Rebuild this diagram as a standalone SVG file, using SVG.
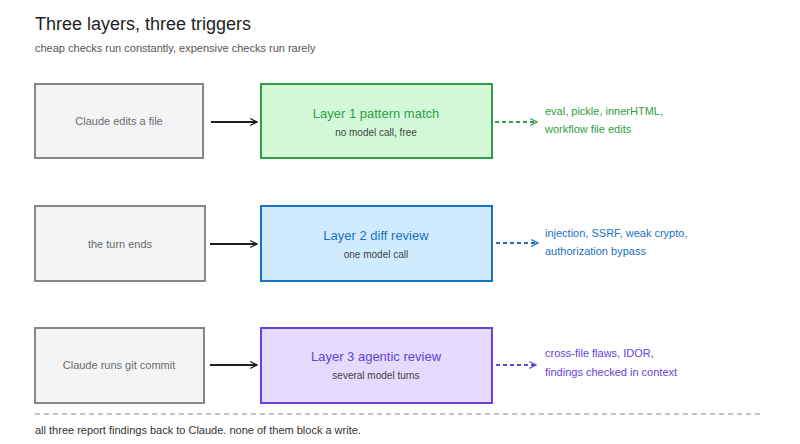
<svg xmlns="http://www.w3.org/2000/svg" width="800" height="444" viewBox="0 0 800 444">
  <defs>
    <marker id="arrow" viewBox="0 0 10 10" refX="9" refY="5" markerWidth="8" markerHeight="8" orient="auto" markerUnits="userSpaceOnUse">
      <path d="M1,1 L9,5 L1,9" fill="none" stroke="#1e1e1e" stroke-width="1.6" stroke-linecap="round"/>
    </marker>
    <marker id="arrow-green" viewBox="0 0 10 10" refX="9" refY="5" markerWidth="8" markerHeight="8" orient="auto" markerUnits="userSpaceOnUse">
      <path d="M1,1 L9,5 L1,9" fill="none" stroke="#2f9e44" stroke-width="1.6" stroke-linecap="round"/>
    </marker>
    <marker id="arrow-blue" viewBox="0 0 10 10" refX="9" refY="5" markerWidth="8" markerHeight="8" orient="auto" markerUnits="userSpaceOnUse">
      <path d="M1,1 L9,5 L1,9" fill="none" stroke="#1971c2" stroke-width="1.6" stroke-linecap="round"/>
    </marker>
    <marker id="arrow-purple" viewBox="0 0 10 10" refX="9" refY="5" markerWidth="8" markerHeight="8" orient="auto" markerUnits="userSpaceOnUse">
      <path d="M1,1 L9,5 L1,9" fill="none" stroke="#6741d9" stroke-width="1.6" stroke-linecap="round"/>
    </marker>
  </defs>
  <style>
    text { font-family: "Liberation Sans", "Open Sans", sans-serif; }
    .title { font-size: 18px; fill: #1e1e1e; }
    .sub { font-size: 11px; fill: #555; }
    .trigger rect { fill: #f3f4f6; stroke: #868686; stroke-width: 2; }
    .trigger text { font-size: 11px; fill: #6b6b6b; text-anchor: middle; }
    .layer text { text-anchor: middle; }
    .layer .name { font-size: 13px; }
    .layer .note { font-size: 10px; fill: #444; }
    .l1 rect { fill: #d3f9d8; stroke: #2f9e44; stroke-width: 2; }
    .l1 .name, .f1 { fill: #2f9e44; }
    .l2 rect { fill: #d0ebff; stroke: #1971c2; stroke-width: 2; }
    .l2 .name, .f2 { fill: #1971c2; }
    .l3 rect { fill: #e5dbff; stroke: #6741d9; stroke-width: 2; }
    .l3 .name, .f3 { fill: #6741d9; }
    .finding { font-size: 11px; }
    .solid { stroke: #1e1e1e; stroke-width: 2; fill: none; marker-end: url(#arrow); }
    .dash { stroke-width: 2; fill: none; stroke-dasharray: 4 3; }
    .footer { font-size: 11px; fill: #333; }
  </style>

  <text class="title" x="35" y="30">Three layers, three triggers</text>
  <text class="sub" x="35" y="52">cheap checks run constantly, expensive checks run rarely</text>

  <!-- triggers -->
  <g id="trigger-edit" class="trigger">
    <rect x="35" y="84" width="168" height="74"/>
    <text x="119" y="125">Claude edits a file</text>
  </g>
  <g id="trigger-turn" class="trigger">
    <rect x="35" y="206" width="170" height="75"/>
    <text x="120" y="248">the turn ends</text>
  </g>
  <g id="trigger-commit" class="trigger">
    <rect x="35" y="328" width="169" height="75"/>
    <text x="119" y="369">Claude runs git commit</text>
  </g>

  <!-- layers -->
  <g id="layer1" class="layer l1">
    <rect x="261" y="84" width="231" height="74"/>
    <text class="name" x="376" y="118">Layer 1 pattern match</text>
    <text class="note" x="376" y="136">no model call, free</text>
  </g>
  <g id="layer2" class="layer l2">
    <rect x="261" y="206" width="231" height="75"/>
    <text class="name" x="376" y="240">Layer 2 diff review</text>
    <text class="note" x="376" y="258">one model call</text>
  </g>
  <g id="layer3" class="layer l3">
    <rect x="261" y="328" width="231" height="75"/>
    <text class="name" x="376" y="361">Layer 3 agentic review</text>
    <text class="note" x="376" y="379">several model turns</text>
  </g>

  <!-- findings -->
  <g id="findings1">
    <text class="finding f1" x="545" y="115">eval, pickle, innerHTML,</text>
    <text class="finding f1" x="545" y="133">workflow file edits</text>
  </g>
  <g id="findings2">
    <text class="finding f2" x="545" y="237">injection, SSRF, weak crypto,</text>
    <text class="finding f2" x="545" y="255">authorization bypass</text>
  </g>
  <g id="findings3">
    <text class="finding f3" x="545" y="357">cross-file flaws, IDOR,</text>
    <text class="finding f3" x="545" y="376">findings checked in context</text>
  </g>

  <!-- connectors -->
  <g id="connectors">
    <path class="solid" d="M211,122 L257,122"/>
    <path class="solid" d="M210,244 L257,244"/>
    <path class="solid" d="M210,365 L257,365"/>
    <path class="dash" stroke="#2f9e44" marker-end="url(#arrow-green)" d="M495,122 L537,122"/>
    <path class="dash" stroke="#1971c2" marker-end="url(#arrow-blue)" d="M496,243 L538,243"/>
    <path class="dash" stroke="#6741d9" marker-end="url(#arrow-purple)" d="M496,365 L536,365"/>
  </g>

  <line x1="35" y1="414" x2="762" y2="414" stroke="#888" stroke-width="1" stroke-dasharray="5 4"/>
  <text class="footer" x="35" y="434">all three report findings back to Claude. none of them block a write.</text>
</svg>
